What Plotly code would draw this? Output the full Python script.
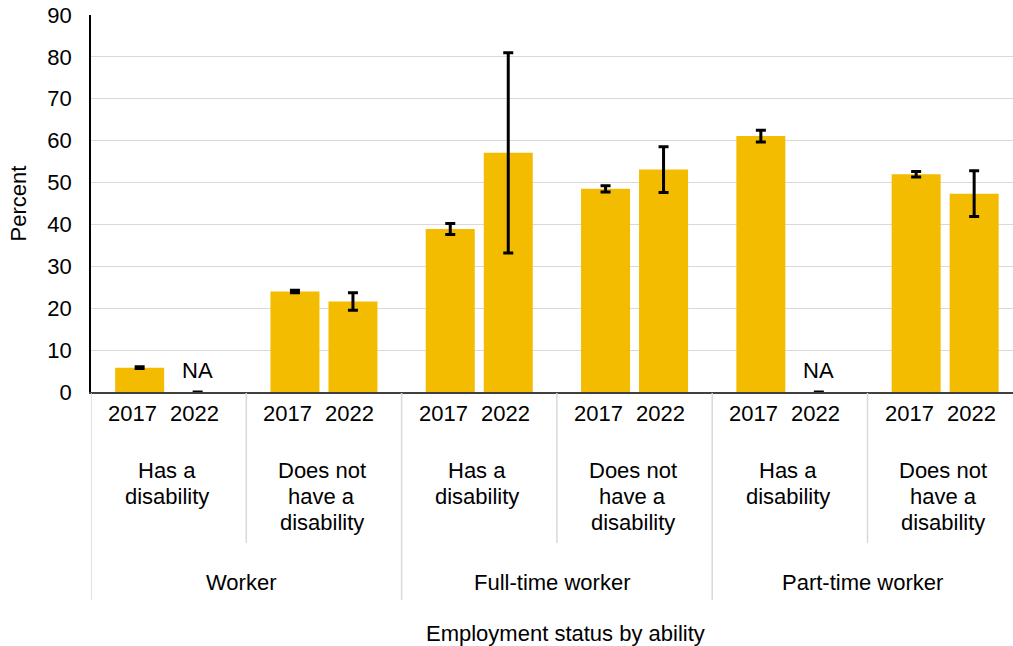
import plotly.graph_objects as go

# ---- data ----
employment = ["Worker", "Full-time worker", "Part-time worker"]
ability = ["Has a<br>disability", "Does not<br>have a<br>disability"]
years = ["2017", "2022"]
values_2017 = [5.8, 24.0, 38.9, 48.5, 61.1, 52.0]
errors_2017 = [0.2, 0.3, 1.3, 0.75, 1.4, 0.65]
values_2022 = [None, 21.6, 57.1, 53.1, None, 47.35]
errors_2022 = [None, 2.1, 23.9, 5.45, None, 5.45]
y_ticks = [0, 10, 20, 30, 40, 50, 60, 70, 80, 90]
x_title = "Employment status by ability"
y_title = "Percent"
na_text = "NA"

# ---- layout constants ----
W, H = 1013, 646
L, R, T, B = 91, 0, 15, 254
PLOT_W = W - L - R
PLOT_H = H - T - B
GROUP_PX = 155.3           # width of one ability group in the original (chart is cropped at right)
BAR_COLOR = "#F4BC00"
FONT = "Arial, Liberation Sans, sans-serif"
FS = 22
BARGAP = 0.253
GROUPGAP = 0.155
DIV = "#d9d9d9"
LINE_STEP = 26
YEAR_SHIFT = [-7, -3]


def px_x(p):
    return (p - L) / PLOT_W


def px_y(p):
    return (H - B - p) / PLOT_H


cats = [f"{e}|{a}" for e in employment for a in ability]
n = len(cats)
x_max = -0.5 + PLOT_W / GROUP_PX

v22 = [0 if v is None else v for v in values_2022]
e22 = [0 if e is None else e for e in errors_2022]

fig = go.Figure()
for name, vals, errs in [(years[0], values_2017, errors_2017), (years[1], v22, e22)]:
    fig.add_trace(go.Bar(
        x=list(range(n)), y=vals, name=name,
        marker=dict(color=BAR_COLOR, line=dict(width=0)),
        error_y=dict(type="data", array=errs, visible=True,
                     color="#000000", thickness=3, width=5),
        showlegend=False, cliponaxis=False, hoverinfo="skip",
    ))

annotations = []
shapes = []
slot = (1 - BARGAP) / 2
txt_font = dict(size=FS, color="#000", family=FONT)

# year labels
for i in range(n):
    for j, yr in enumerate(years):
        annotations.append(dict(
            x=i + (j - 0.5) * slot, y=px_y(413), xref="x", yref="paper",
            text=yr, showarrow=False, yanchor="middle", xanchor="center",
            xshift=YEAR_SHIFT[j], font=txt_font))

# NA labels
for i, v in enumerate(values_2022):
    if v is None:
        annotations.append(dict(
            x=i + 0.5 * slot, y=0, xref="x", yref="y",
            text=na_text, showarrow=False, yanchor="bottom", xanchor="center",
            yshift=7, font=txt_font))

# ability labels (one annotation per line for tight line spacing)
for i in range(n):
    lines = ability[i % len(ability)].split("<br>")
    for k, line in enumerate(lines):
        annotations.append(dict(
            x=i, y=px_y(470 + k * LINE_STEP), xref="x", yref="paper",
            text=line, showarrow=False, xshift=-2,
            yanchor="middle", xanchor="center",
            font=txt_font))

# employment labels
na = len(ability)
for k, emp in enumerate(employment):
    annotations.append(dict(
        x=k * na + (na - 1) / 2, y=px_y(582), xref="x", yref="paper",
        text=emp, showarrow=False, yanchor="middle", xanchor="center",
        xshift=-5, font=txt_font))

# axis titles
annotations.append(dict(
    x=px_x(565), y=px_y(634), xref="paper", yref="paper",
    text=x_title, showarrow=False, yanchor="middle", xanchor="center",
    font=txt_font))
annotations.append(dict(
    x=px_x(18), y=0.5, xref="paper", yref="paper",
    text=y_title, showarrow=False, textangle=-90,
    yanchor="middle", xanchor="center",
    font=txt_font))

# dividers
for b in range(n):
    xb = b - 0.5
    bottom = 600 if b % na == 0 else 543
    shapes.append(dict(
        type="line", xref="x", yref="paper", x0=xb, x1=xb,
        y0=px_y(393), y1=px_y(bottom), xsizemode="scaled",
        line=dict(color=DIV, width=1.5)))

fig.update_layout(
    width=W, height=H,
    margin=dict(l=L, r=R, t=T, b=B, pad=0),
    plot_bgcolor="white", paper_bgcolor="white",
    barmode="group", bargap=BARGAP, bargroupgap=GROUPGAP,
    annotations=annotations, shapes=shapes,
    font=dict(family=FONT, size=FS, color="#000"),
    hovermode=False,
    xaxis=dict(range=[-0.5, x_max], showticklabels=False, ticks="",
               showgrid=False, zeroline=False, showline=True,
               linecolor="#404040", linewidth=1.5, fixedrange=True),
    yaxis=dict(range=[0, 90], tickvals=y_ticks, showgrid=True,
               gridcolor="#d9d9d9", gridwidth=1.2, zeroline=False,
               showline=True, linecolor="#000", linewidth=1.5,
               ticks="", ticklabelstandoff=13, fixedrange=True,
               tickfont=txt_font),
)

fig.write_html(
    "out.html",
    config={"displayModeBar": False},
    post_script="document.body.style.margin='0';document.body.style.overflow='hidden';",
)
